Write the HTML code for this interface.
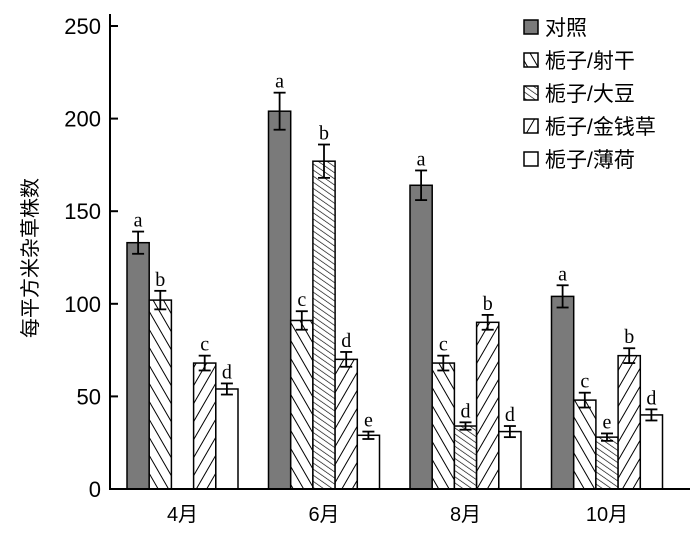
<!DOCTYPE html>
<html><head><meta charset="utf-8"><style>
body{margin:0;background:#fff}
text{font-family:"Liberation Sans","Noto Sans CJK SC",sans-serif}
.ser{font-family:"Liberation Serif","Noto Serif CJK SC",serif}
</style></head><body>
<svg width="700" height="533" viewBox="0 0 700 533" xmlns="http://www.w3.org/2000/svg">
<defs>
<pattern id="p1" width="9" height="9" patternUnits="userSpaceOnUse" patternTransform="rotate(-30)"><rect width="9" height="9" fill="#fff"/><line x1="0" y1="0" x2="0" y2="9" stroke="#000" stroke-width="2"/></pattern>
<pattern id="p2" width="5" height="5" patternUnits="userSpaceOnUse" patternTransform="rotate(-55)"><rect width="5" height="5" fill="#fff"/><line x1="0" y1="0" x2="0" y2="5" stroke="#000" stroke-width="1.3"/></pattern>
<pattern id="p3" width="9" height="9" patternUnits="userSpaceOnUse" patternTransform="rotate(30)"><rect width="9" height="9" fill="#fff"/><line x1="0" y1="0" x2="0" y2="9" stroke="#000" stroke-width="2"/></pattern>
</defs>
<g id="plot"></g>
</svg>
<script>
const categories=["4月","6月","8月","10月"];
const seriesNames=["对照","栀子/射干","栀子/大豆","栀子/金钱草","栀子/薄荷"];
const control=[133,204,164,104];
const shegan=[102,91,68,48];
const dadou=[null,177,34,28];
const jinqiancao=[68,70,90,72];
const bohe=[54,29,31,40];
const errControl=[6,10,8,6];
const errShegan=[5,5,4,4];
const errDadou=[null,9,2,2];
const errJin=[4,4,4,4];
const errBohe=[3,2,3,3];
const letControl=["a","a","a","a"];
const letShegan=["b","c","c","c"];
const letDadou=[null,"b","d","e"];
const letJin=["c","d","b","b"];
const letBohe=["d","e","d","d"];
const yTicks=[0,50,100,150,200,250];

const NS="http://www.w3.org/2000/svg";
const g=document.getElementById('plot');
const X0=110,Y0=489,YT=26,yMax=250;
const y=v=>Y0-(v/yMax)*(Y0-YT);
const slot=22.2,groupStart=127,groupStep=141.5;
const xs=(gi,si)=>groupStart+gi*groupStep+si*slot;
function el(t,a,p){const e=document.createElementNS(NS,t);for(const k in a)e.setAttribute(k,a[k]);(p||g).appendChild(e);return e;}
const fills=["#7a7a7a","url(#p1)","url(#p2)","url(#p3)","#fff"];
const vals=[control,shegan,dadou,jinqiancao,bohe];
const errs=[errControl,errShegan,errDadou,errJin,errBohe];
const lets=[letControl,letShegan,letDadou,letJin,letBohe];
const keys=["control","shegan","dadou","jinqiancao","bohe"];
vals.forEach((arr,si)=>arr.forEach((v,gi)=>{
 if(v==null)return;
 const x=xs(gi,si);
 const r=el('rect',{x:x,y:y(v),width:slot,height:Y0-y(v),fill:fills[si],stroke:"#000","stroke-width":1.5});
 
 
 const e=errs[si][gi],cx=x+slot/2;
 const eg=el('g',{stroke:"#000","stroke-width":1.8});
 
 
 el('line',{x1:cx,x2:cx,y1:y(v+e),y2:y(v-e)},eg);
 el('line',{x1:cx-6,x2:cx+6,y1:y(v+e),y2:y(v+e)},eg);
 el('line',{x1:cx-6,x2:cx+6,y1:y(v-e),y2:y(v-e)},eg);
 const t=el('text',{x:cx,y:y(v+e)-5,"text-anchor":"middle","font-size":20,class:"ser"});
 t.textContent=lets[si][gi];
 
 
}));
// axes
const ax=el('g',{stroke:"#000","stroke-width":2});


el('line',{x1:X0,x2:X0,y1:14,y2:Y0+1},ax);
el('line',{x1:X0,x2:690,y1:Y0,y2:Y0},ax);
yTicks.forEach(v=>{
 el('line',{x1:X0,x2:X0+8,y1:y(v),y2:y(v)},ax);
 const t=el('text',{x:101,y:y(v)+8,"text-anchor":"end","font-size":22});
 t.textContent=v;
 
 
});
categories.forEach((c,gi)=>{
 const cx=xs(gi,0)+slot*2.5;
 const t=el('text',{x:cx,y:521,"text-anchor":"middle","font-size":20});
 t.textContent=c;
 
 
});
const yt=el('text',{x:0,y:0,"text-anchor":"middle","font-size":20,transform:"translate(37,258) rotate(-90)"});
yt.textContent="每平方米杂草株数";


// legend
seriesNames.forEach((n,i)=>{
 const ly=20+i*33;
 const lg=el('g',{});
 
 
 el('rect',{x:524,y:ly,width:14,height:14,fill:fills[i],stroke:"#000","stroke-width":1.5},lg);
 const t=el('text',{x:545,y:ly+15,"font-size":21},lg);
 t.textContent=n;
});
</script>
</body></html>
